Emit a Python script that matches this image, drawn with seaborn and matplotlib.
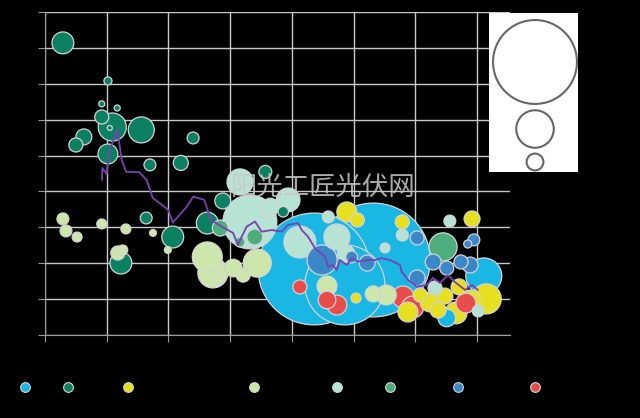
import pandas as pd
import seaborn as sns
import matplotlib.pyplot as plt
from matplotlib.lines import Line2D

# Bubble data: year, price value, installed capacity (MW) per country
us_year = [2011.36, 2012.32, 2011.86, 2014.11, 2013.51]
us_val = [3.68, 4.18, 2.79, 3.29, 0.95]
us_mw = [444, 460, 227, 46, 11]

spain_year = [2007.29, 2008.02, 2007.92, 2008.17, 2007.92, 2008.09, 2008.56, 2007.63, 2007.50, 2008.02,
              2009.40, 2008.70, 2009.20, 2008.64, 2009.07, 2008.23, 2009.63, 2009.88, 2010.57, 2008.05, 2010.86]
spain_val = [16.28, 14.16, 12.88, 12.65, 12.15, 11.59, 11.43, 11.04, 10.59, 10.09,
             10.98, 9.48, 9.59, 6.52, 5.46, 4.01, 6.24, 7.47, 9.09, 11.54, 6.87]
spain_mw = [17, 2.3, 1.3, 1.3, 7, 28, 24, 9, 7, 14,
            5, 5, 8, 5, 17, 17, 17, 9, 6, 0.9, 4]

uk_year = [2011.89, 2012.06, 2012.79, 2013.92, 2012.04, 2013.24, 2013.48, 2013.66, 2013.71, 2013.89,
           2014.15, 2013.08, 2013.37, 2012.88]
uk_val = [6.86, 6.41, 6.30, 6.47, 2.06, 1.84, 2.17, 1.23, 2.68, 1.95,
          2.01, 2.23, 1.39, 1.28]
uk_mw = [14, 7, 7, 9, 3.5, 14, 9, 17, 9, 14,
         32, 7, 9, 14]

germany_year = [2007.29, 2007.34, 2007.52, 2007.92, 2008.31, 2008.75, 2008.18, 2008.26, 2008.99, 2009.63,
                2009.72, 2010.05, 2010.21, 2010.44, 2009.80, 2011.57, 2012.32, 2012.53]
germany_val = [6.47, 5.80, 5.46, 6.19, 5.91, 5.69, 4.57, 4.74, 4.74, 4.35,
               3.46, 3.73, 3.34, 4.01, 3.07, 2.73, 2.29, 2.23]
germany_mw = [5, 5, 3.5, 3.5, 3.5, 1.7, 7, 3.5, 1.7, 32,
              32, 11, 7, 28, 3.5, 14, 9, 14]

italy_year = [2010.16, 2010.32, 2010.94, 2010.65, 2011.13, 2011.73, 2011.59, 2011.88, 2012.79, 2012.51,
              2013.56, 2013.32, 2014.02]
italy_val = [8.53, 6.30, 7.53, 7.13, 5.18, 5.46, 6.58, 4.51, 5.57, 4.85,
             6.35, 2.62, 1.34]
italy_mw = [24, 103, 20, 11, 36, 24, 5, 11, 5, 3.5,
            5, 7, 5]

france_year = [2013.45, 2009.84, 2010.40, 2010.16]
france_val = [4.91, 5.96, 5.46, 5.18]
france_mw = [28, 9, 9, 3.5]

belgium_year = [2011.49, 2011.97, 2012.22, 2013.03, 2013.03, 2013.29, 2013.51, 2013.74, 2013.85, 2013.95, 2013.89]
belgium_val = [4.18, 4.35, 4.01, 5.41, 3.18, 4.07, 3.73, 4.07, 5.07, 5.30, 3.90]
belgium_mw = [32, 5, 9, 7, 9, 9, 7, 7, 2.3, 5, 9]

china_year = [2011.13, 2011.57, 2011.73, 2012.80, 2012.96, 2013.82]
china_val = [2.68, 1.95, 1.67, 2.12, 1.56, 1.78]
china_mw = [7, 11, 14, 17, 17, 14]

# Price line
line_year = [2007.924, 2007.929, 2008.000, 2008.037, 2008.081, 2008.172, 2008.243, 2008.313, 2008.528, 2008.648,
             2008.745, 2008.998, 2009.069, 2009.296, 2009.403, 2009.581, 2009.646, 2009.685, 2009.863, 2010.047,
             2010.127, 2010.187, 2010.268, 2010.403, 2010.512, 2010.674, 2010.836, 2010.938, 2011.100, 2011.160,
             2011.262, 2011.376, 2011.538, 2011.586, 2011.667, 2011.727, 2011.780, 2011.889, 2011.970, 2012.072,
             2012.213, 2012.348, 2012.456, 2012.591, 2012.753, 2012.780, 2012.882, 2013.023, 2013.185, 2013.287,
             2013.401, 2013.530, 2013.644, 2013.806, 2013.919, 2014.016]
line_val = [8.64, 9.31, 8.97, 10.14, 10.59, 11.43, 9.75, 9.10, 9.07, 8.64,
            7.65, 6.97, 6.26, 7.15, 7.71, 7.53, 6.87, 6.41, 6.04, 5.69,
            5.02, 5.48, 6.04, 6.32, 5.76, 5.85, 5.76, 6.13, 6.24, 5.85,
            5.48, 4.83, 4.36, 3.81, 3.90, 3.62, 4.18, 3.90, 4.28, 4.09,
            4.18, 4.18, 4.28, 4.18, 3.90, 3.53, 3.07, 2.69, 2.79, 3.18,
            2.90, 3.34, 2.95, 2.51, 2.79, 2.51]

countries = ["US", "Spain", "United Kingdom", "Germany", "Italy", "France", "Belgium", "China"]
colors = ["#1ab7e4", "#0b8062", "#e6e021", "#cce6ab", "#b6e3d3", "#4cae7c", "#3b88c9", "#e84c4b"]
size_labels = ["250 MW", "50 MW", "10 MW"]
size_values = [250, 50, 10]

series = {
    "US": (us_year, us_val, us_mw),
    "Spain": (spain_year, spain_val, spain_mw),
    "United Kingdom": (uk_year, uk_val, uk_mw),
    "Germany": (germany_year, germany_val, germany_mw),
    "Italy": (italy_year, italy_val, italy_mw),
    "France": (france_year, france_val, france_mw),
    "Belgium": (belgium_year, belgium_val, belgium_mw),
    "China": (china_year, china_val, china_mw),
}
rows = []
for name, (yr, vl, mw) in series.items():
    for a, b, c in zip(yr, vl, mw):
        rows.append({"country": name, "year": a, "value": b, "mw": c})
df = pd.DataFrame(rows).sort_values("mw", ascending=False)
line_df = pd.DataFrame({"year": line_year, "value": line_val})

palette = dict(zip(countries, colors))
k = 14.6  # points^2 per MW
text_col = "#000000"

sns.set_style("white")
plt.rcParams['font.family'] = ['DejaVu Sans', 'Noto Sans CJK SC']
plt.rcParams['text.color'] = text_col

fig = plt.figure(figsize=(6.4, 4.18), dpi=100, facecolor="black")
ax = fig.add_axes([45 / 640, 83 / 418, 465 / 640, 323 / 418])
ax.set_facecolor("black")

sns.scatterplot(data=df, x="year", y="value", hue="country", palette=palette,
                size="mw", sizes=(0, 500 * k), size_norm=(0, 500),
                edgecolor="#d4d4d4", linewidth=0.9, alpha=1, legend=False, ax=ax, zorder=3)
sns.lineplot(data=line_df, x="year", y="value", sort=False, estimator=None,
             color="#7a3fb3", linewidth=1.3, ax=ax, zorder=5)

ax.set_xlim(2007, 2014.535)
ax.set_ylim(0, 18)
ax.set_xticks(range(2007, 2015))
ax.set_yticks(range(0, 19, 2))
ax.grid(True, color="#c8c8c8", linewidth=1)
ax.set_axisbelow(True)
ax.set_xlabel("")
ax.set_ylabel("")
for s in ["top", "right"]:
    ax.spines[s].set_visible(False)
for s in ["left", "bottom"]:
    ax.spines[s].set_color("#9a9a9a")
ax.tick_params(axis="both", color="#9a9a9a", length=5, direction="out", left=True, bottom=True)
ax.tick_params(axis="both", labelcolor=text_col, labelsize=9)

# watermark
ax.text(2011.5, 8.25, "阳光工匠光伏网", fontsize=19, color="#c8c8c8", alpha=0.85,
        ha="center", va="center", family=['Noto Sans CJK SC', 'DejaVu Sans'], zorder=6)

# country legend
handles = [Line2D([], [], marker="o", linestyle="", markersize=7, markerfacecolor=c,
                  markeredgecolor="#d4d4d4", markeredgewidth=0.8) for c in colors]
fig.legend(handles, countries, loc="center", bbox_to_anchor=(0.466, 0.072), ncol=8,
           frameon=False, fontsize=9, handletextpad=0.1, columnspacing=0.95,
           handlelength=1.0, labelcolor=text_col)

# size legend box
lax = fig.add_axes([489 / 640, 246 / 418, 89 / 640, 159 / 418])
lax.set_facecolor("white")
lax.set_xlim(0, 89)
lax.set_ylim(159, 0)
lax.set_xticks([])
lax.set_yticks([])
for s in lax.spines.values():
    s.set_visible(False)
size_df = pd.DataFrame({"x": [46, 46, 46], "y": [49, 116, 149], "mw": size_values})
sns.scatterplot(data=size_df, x="x", y="y", size="mw", sizes=(0, 500 * k), size_norm=(0, 500),
                color="white", edgecolor="#666666", linewidth=1.5, legend=False, ax=lax)
lax.set_xlabel("")
lax.set_ylabel("")
for yy, lab in zip([49, 116, 149], size_labels):
    lax.text(92, yy, lab, fontsize=8, color=text_col, va="center", ha="left", clip_on=False)

fig.savefig("out.png", dpi=100, facecolor="black")
